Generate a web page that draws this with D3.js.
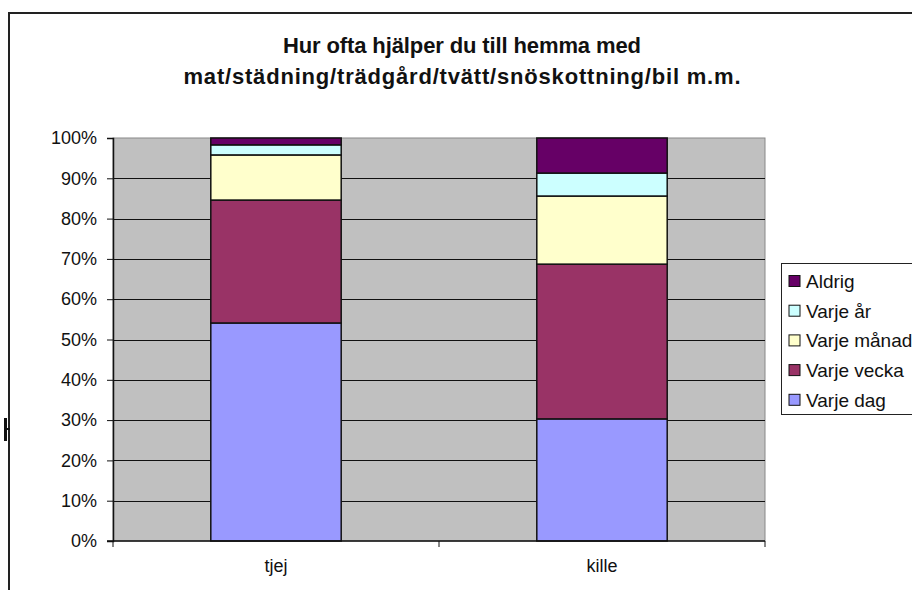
<!DOCTYPE html>
<html>
<head>
<meta charset="utf-8">
<script src="https://cdn.jsdelivr.net/npm/d3@7"></script>
<style>
  body { margin: 0; background: #fff; }
  svg { display: block; font-family: "Liberation Sans", Arial, sans-serif; }
</style>
</head>
<body>
<div id="wrapper"></div>
<script>
const categories = ["tjej", "kille"];
const seriesNames = ["Varje dag", "Varje vecka", "Varje månad", "Varje år", "Aldrig"];
const seriesColors = ["#9999FF", "#993366", "#FFFFCC", "#CCFFFF", "#660066"];
// percent per category, in series order
const tjejValues = [54.1, 30.5, 11.2, 2.5, 1.7];
const killeValues = [30.3, 38.4, 16.9, 5.7, 8.7];
const yTicks = [0, 10, 20, 30, 40, 50, 60, 70, 80, 90, 100];
const titleLines = ["Hur ofta hjälper du till hemma med", "mat/städning/trädgård/tvätt/snöskottning/bil m.m."];

const dimension = {
    width: 912,
    height: 590,
    margin: { left: 113, right: 147, top: 138, bottom: 49 }
};

const svg = d3.select("#wrapper").append("svg")
    .attr("width", dimension.width)
    .attr("height", dimension.height);

// outer chart border (cut by the window on right and bottom)
svg.append("path")
    .attr("d", `M9,${dimension.height + 5} V13 H${dimension.width + 5}`)
    .attr("fill", "none")
    .attr("stroke", "#222")
    .attr("stroke-width", 2);

// cut-off glyph at the left border
svg.append("rect").attr("x", 4).attr("y", 418).attr("width", 3).attr("height", 23).attr("fill", "#111");
svg.append("rect").attr("x", 4).attr("y", 428).attr("width", 6).attr("height", 2).attr("fill", "#111");

const titleWidths = [358, 557];
titleLines.forEach((t, i) => {
    svg.append("text")
        .attr("x", 462)
        .attr("y", 53 + i * 31)
        .attr("text-anchor", "middle")
        .attr("textLength", titleWidths[i])
        .attr("lengthAdjust", "spacing")
        .style("font-size", "22px")
        .style("font-weight", "bold")
        .attr("fill", "#111")
        .text(t);
});

const x = d3.scaleBand()
    .domain(categories)
    .range([dimension.margin.left, dimension.width - dimension.margin.right])
    .paddingInner(0.6)
    .paddingOuter(0.3);

const xGroup = d3.scaleBand()
    .domain(categories)
    .range([dimension.margin.left, dimension.width - dimension.margin.right]);

const y = d3.scaleLinear()
    .domain([0, 100])
    .range([dimension.height - dimension.margin.bottom, dimension.margin.top]);

const plotLeft = dimension.margin.left;
const plotRight = dimension.width - dimension.margin.right;

svg.append("rect")
    .attr("x", plotLeft)
    .attr("y", y(100))
    .attr("width", plotRight - plotLeft)
    .attr("height", y(0) - y(100))
    .attr("fill", "#C0C0C0")
    .attr("stroke", "#888")
    .attr("stroke-width", 1);

svg.append("g")
    .selectAll("line")
    .data(yTicks.filter(d => d > 0 && d < 100))
    .join("line")
    .attr("x1", plotLeft)
    .attr("x2", plotRight)
    .attr("y1", d => Math.round(y(d)) + 0.5)
    .attr("y2", d => Math.round(y(d)) + 0.5)
    .attr("stroke", "#111")
    .attr("stroke-width", 1);

// stacked bars
const table = categories.map((c, i) => {
    const row = { category: c };
    const vals = i === 0 ? tjejValues : killeValues;
    seriesNames.forEach((s, j) => row[s] = vals[j]);
    return row;
});
const stacked = d3.stack().keys(seriesNames)(table);

svg.append("g")
    .selectAll("g")
    .data(stacked)
    .join("g")
    .attr("fill", (d, i) => seriesColors[i])
    .selectAll("rect")
    .data(d => d)
    .join("rect")
    .attr("x", d => x(d.data.category))
    .attr("y", d => y(d[1]))
    .attr("width", x.bandwidth())
    .attr("height", d => y(d[0]) - y(d[1]))
    .attr("stroke", "#111")
    .attr("stroke-width", 1.5);

// axes
const yAxis = d3.axisLeft(y)
    .tickValues(yTicks)
    .tickSize(6)
    .tickFormat(d => d + "%");
svg.append("g")
    .attr("transform", `translate(${plotLeft},0)`)
    .call(yAxis)
    .call(g => g.select(".domain").attr("stroke", "#111").attr("stroke-width", 1.5))
    .call(g => g.selectAll(".tick line").attr("stroke", "#111"))
    .call(g => g.selectAll("text")
        .attr("x", -16)
        .style("font-size", "18px")
        .style("font-family", "'Liberation Sans', Arial, sans-serif")
        .attr("fill", "#111"));

const xAxisG = svg.append("g")
    .attr("transform", `translate(0,${y(0)})`);
xAxisG.append("line")
    .attr("x1", plotLeft - 6).attr("x2", plotRight)
    .attr("stroke", "#111").attr("stroke-width", 1.5);
xAxisG.selectAll(".sep")
    .data([plotLeft, xGroup(categories[1]), plotRight])
    .join("line")
    .attr("class", "sep")
    .attr("x1", d => d).attr("x2", d => d)
    .attr("y1", 0).attr("y2", 6)
    .attr("stroke", "#111");
xAxisG.selectAll("text")
    .data(categories)
    .join("text")
    .attr("x", d => xGroup(d) + xGroup.bandwidth() / 2)
    .attr("y", 31)
    .attr("text-anchor", "middle")
    .style("font-size", "18px")
    .attr("fill", "#111")
    .text(d => d);

// legend
const legend = svg.append("g").attr("transform", "translate(781,263)");
legend.append("rect")
    .attr("x", 0.5).attr("y", 0.5)
    .attr("width", 200).attr("height", 151)
    .attr("fill", "#fff")
    .attr("stroke", "#222")
    .attr("stroke-width", 1);

const legendOrder = seriesNames.map((s, i) => ({ name: s, color: seriesColors[i] })).reverse();
const item = legend.selectAll(".item")
    .data(legendOrder)
    .join("g")
    .attr("class", "item")
    .attr("transform", (d, i) => `translate(0,${18 + i * 29.7})`);
item.append("rect")
    .attr("x", 8).attr("y", -5.5)
    .attr("width", 11).attr("height", 11)
    .attr("fill", d => d.color)
    .attr("stroke", "#111");
item.append("text")
    .attr("x", 25).attr("y", 7)
    .style("font-size", "19px")
    .attr("fill", "#111")
    .text(d => d.name);
</script>
</body>
</html>
